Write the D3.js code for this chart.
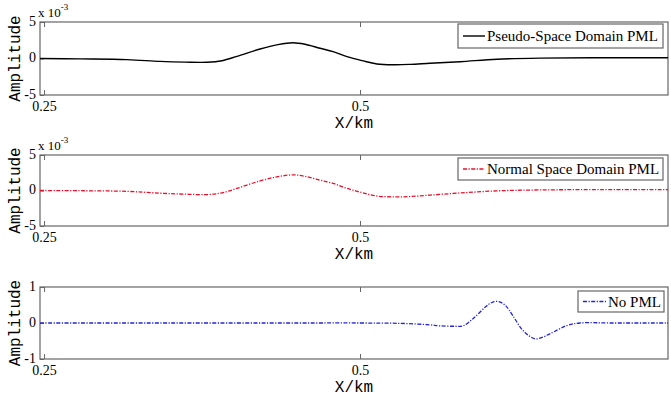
<!DOCTYPE html>
<html><head><meta charset="utf-8">
<script src="https://cdn.jsdelivr.net/npm/d3@7"></script>
<style>body{margin:0;background:#fff}svg{display:block}</style>
</head><body>
<svg id="c" width="671" height="399"></svg>
<script>
// ---- data ----
const xTicks = [0.25, 0.5];
const xDomain = [0.2468, 0.7437];
const pseudoX = [0.2468,0.2785,0.3157,0.3418,0.3616,0.379,0.3908,0.4027,0.4209,0.4351,0.447,0.4565,0.4684,0.4787,0.4897,0.5016,0.5134,0.5277,0.5396,0.5554,0.5791,0.6084,0.6424,0.6899,0.7437];
const pseudoY = [0,-0.05,-0.15,-0.4,-0.5,-0.52,-0.3,0.3,1.3,1.9,2.16,1.95,1.4,0.95,0.25,-0.3,-0.75,-0.85,-0.8,-0.65,-0.44,-0.1,0.05,0.1,0.1];
const normalX = [0.2468,0.2785,0.3157,0.3418,0.3616,0.379,0.3908,0.4027,0.4209,0.4351,0.447,0.4565,0.4684,0.4787,0.4897,0.5016,0.5134,0.5277,0.5396,0.5554,0.5791,0.6084,0.6424,0.6899,0.7437];
const normalY = [0,-0.03,-0.12,-0.38,-0.52,-0.57,-0.33,0.3,1.35,1.95,2.2,2.0,1.45,1.0,0.3,-0.3,-0.78,-0.9,-0.85,-0.65,-0.35,-0.05,0.08,0.12,0.12];
const noPmlX = [0.2468,0.35,0.45,0.5,0.5316,0.555,0.5633,0.575,0.5815,0.5894,0.5994,0.6044,0.6092,0.6147,0.621,0.629,0.6385,0.6448,0.6503,0.6638,0.674,0.7,0.7437];
const noPmlY = [0,0,0,0,-0.01,-0.05,-0.08,-0.09,-0.08,0.12,0.45,0.57,0.6,0.5,0.2,-0.21,-0.44,-0.39,-0.3,-0.07,0,0,0];
const yTicksSmall = [-5, 0, 5];
const yTicksUnit = [-1, 0, 1];
const legendLabels = ["Pseudo-Space Domain PML", "Normal Space Domain PML", "No PML"];

// ---- layout ----
const svg = d3.select("#c");
const left = 40, right = 668;
const panels = [
  {top:22, bottom:95, xs:pseudoX, ys:pseudoY, dom:[-5,5], ticks:yTicksSmall, exp:true, color:"#000", dash:null, width:1.4,
   leg:{x0:458,x1:663,y0:24,y1:48,l0:463,l1:485}},
  {top:155, bottom:226, xs:normalX, ys:normalY, dom:[-5,5], ticks:yTicksSmall, exp:true, color:"#e8102a", dash:"4,1.5,1.2,1.5", width:1.3,
   leg:{x0:458,x1:663,y0:158,y1:180,l0:463,l1:485}},
  {top:287, bottom:359, xs:noPmlX, ys:noPmlY, dom:[-1,1], ticks:yTicksUnit, exp:false, color:"#2424d4", dash:"4,1.5,1.2,1.5", width:1.3,
   leg:{x0:578,x1:664,y0:291,y1:312,l0:583,l1:606}}
];
const x = d3.scaleLinear().domain(xDomain).range([left, right]);
const frameColor = "#666";
const fmt = d => String(d);

panels.forEach((p, i) => {
  const y = d3.scaleLinear().domain(p.dom).range([p.bottom, p.top]);
  const g = svg.append("g");
  // axis labels (drawn first so tick labels stay on top)
  g.append("text").attr("x", 354).attr("y", p.bottom + 33)
    .attr("text-anchor", "middle").attr("font-family", "'Liberation Mono', monospace").attr("font-size", 16)
    .attr("fill", "#000").text("X/km");
  g.append("text").attr("transform", `translate(20,${(p.top+p.bottom)/2}) rotate(-90)`)
    .attr("text-anchor", "middle").attr("font-family", "'Liberation Mono', monospace").attr("font-size", 16)
    .attr("fill", "#000").text("Amplitude");
  // frame
  g.append("rect").attr("x", left).attr("y", p.top).attr("width", right-left).attr("height", p.bottom-p.top)
    .attr("fill", "none").attr("stroke", frameColor).attr("stroke-width", 1.2);
  // bottom axis (inward ticks)
  const xb = g.append("g").attr("transform", `translate(0,${p.bottom})`)
    .call(d3.axisBottom(x).tickValues(xTicks).tickSizeInner(-5).tickSizeOuter(0).tickPadding(6)
      .tickFormat(fmt));
  xb.select(".domain").remove();
  xb.selectAll("line").attr("stroke", frameColor);
  xb.selectAll("text").attr("font-family", "'Liberation Serif', serif").attr("font-size", 14).attr("fill", "#000");
  // top axis (inward ticks, no labels)
  const xt = g.append("g").attr("transform", `translate(0,${p.top})`)
    .call(d3.axisTop(x).tickValues(xTicks).tickSizeInner(-5).tickSizeOuter(0).tickFormat(""));
  xt.select(".domain").remove();
  xt.selectAll("line").attr("stroke", frameColor);
  // left axis
  const yl = g.append("g").attr("transform", `translate(${left},0)`)
    .call(d3.axisLeft(y).tickValues(p.ticks).tickSizeInner(-4).tickSizeOuter(0).tickPadding(4).tickFormat(fmt));
  yl.select(".domain").remove();
  yl.selectAll("line").attr("stroke", frameColor);
  yl.selectAll("text").attr("font-family", "'Liberation Serif', serif").attr("font-size", 14).attr("fill", "#000")
    .attr("dy", "0.22em");
  if (p.exp) {
    const t = g.append("text").attr("x", 38).attr("y", p.top - 5)
      .attr("font-family", "'Liberation Serif', serif").attr("font-size", 13).attr("fill", "#000");
    t.append("tspan").text("x 10");
    t.append("tspan").attr("dy", -7).attr("font-size", 9).text("-3");
  }
  // curve
  const data = p.xs.map((v, k) => [v, p.ys[k]]);
  const line = d3.line().x(d => x(d[0])).y(d => y(d[1])).curve(d3.curveCatmullRom.alpha(0.5));
  g.append("path").datum(data).attr("d", line).attr("fill", "none").attr("stroke", p.color)
    .attr("stroke-width", p.width).attr("stroke-dasharray", p.dash);
  // legend
  const L = p.leg;
  g.append("rect").attr("x", L.x0).attr("y", L.y0).attr("width", L.x1-L.x0).attr("height", L.y1-L.y0)
    .attr("fill", "#fff").attr("stroke", frameColor).attr("stroke-width", 1.2);
  const ym = (L.y0 + L.y1) / 2;
  g.append("line").attr("x1", L.l0).attr("x2", L.l1).attr("y1", ym).attr("y2", ym)
    .attr("stroke", p.color).attr("stroke-width", p.width).attr("stroke-dasharray", p.dash);
  g.append("text").attr("x", L.l1 + 2).attr("y", ym + 5).attr("font-family", "'Liberation Serif', serif")
    .attr("font-size", 15).attr("fill", "#000").text(legendLabels[i]);
});
</script>
</body></html>
